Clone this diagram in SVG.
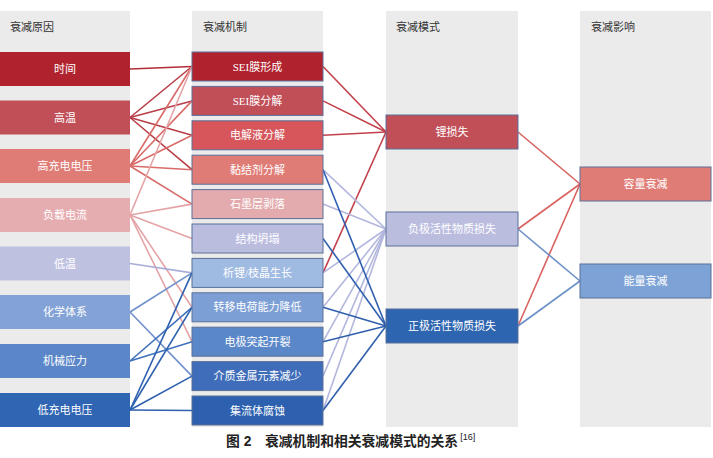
<svg xmlns="http://www.w3.org/2000/svg" width="713" height="458" viewBox="0 0 713 458">
<style>
.bg{fill:#ebebeb}
.hd{font-family:"Liberation Serif","Noto Sans CJK SC",serif;font-size:11px;fill:#333}
.t{font-family:"Liberation Serif","Noto Sans CJK SC",serif;font-size:11px;fill:#ffffff;text-anchor:middle;dominant-baseline:central}
.b{stroke:#5a7098;stroke-width:1}
.cap{font-family:"Liberation Sans","Noto Sans CJK SC",sans-serif;font-size:13.8px;font-weight:bold;fill:#222}
#connectors line{fill:none;stroke-width:1.6}
.r0{stroke:#b32d38}.r1{stroke:#b83e48}.r2{stroke:#d96b69}.r3{stroke:#e4a3a6}
.l0{stroke:#a9aed8}.l1{stroke:#6f90cc}.l2{stroke:#3f71bc}.l3{stroke:#2d60ae}
.m0{stroke:#c2404b}.m1{stroke:#b3b7dd}.m2{stroke:#2f5fad}
.e0{stroke:#d9625f}.e1{stroke:#6c91c9}
</style>
<g id="columns">
<rect class="bg" x="0" y="11" width="130" height="416"/>
<rect class="bg" x="192" y="11" width="131" height="416"/>
<rect class="bg" x="386" y="11" width="132" height="416"/>
<rect class="bg" x="580" y="11" width="131" height="416"/>
<text class="hd" x="10" y="31">衰减原因</text>
<text class="hd" x="203" y="31">衰减机制</text>
<text class="hd" x="396" y="31">衰减模式</text>
<text class="hd" x="591" y="31">衰减影响</text>
</g>
<g id="connectors">
<line class="r0" x1="130" y1="69" x2="192" y2="66.5"/>
<line class="r1" x1="130" y1="117.5" x2="192" y2="66.5"/>
<line class="r1" x1="130" y1="117.5" x2="192" y2="100.9"/>
<line class="r1" x1="130" y1="117.5" x2="192" y2="135.3"/>
<line class="r1" x1="130" y1="117.5" x2="192" y2="169.7"/>
<line class="r2" x1="130" y1="166" x2="192" y2="66.5"/>
<line class="r2" x1="130" y1="166" x2="192" y2="100.9"/>
<line class="r2" x1="130" y1="166" x2="192" y2="135.3"/>
<line class="r2" x1="130" y1="166" x2="192" y2="169.7"/>
<line class="r2" x1="130" y1="166" x2="192" y2="204.1"/>
<line class="r3" x1="130" y1="215" x2="192" y2="66.5"/>
<line class="r3" x1="130" y1="215" x2="192" y2="204.1"/>
<line class="r3" x1="130" y1="215" x2="192" y2="238.5"/>
<line class="r3" x1="130" y1="215" x2="192" y2="307.3"/>
<line class="r3" x1="130" y1="215" x2="192" y2="341.7"/>
<line class="l0" x1="130" y1="263.5" x2="192" y2="272.9"/>
<line class="l1" x1="130" y1="312" x2="192" y2="272.9"/>
<line class="l1" x1="130" y1="312" x2="192" y2="376.1"/>
<line class="l2" x1="130" y1="361" x2="192" y2="307.3"/>
<line class="l2" x1="130" y1="361" x2="192" y2="341.7"/>
<line class="l3" x1="130" y1="410" x2="192" y2="272.9"/>
<line class="l3" x1="130" y1="410" x2="192" y2="307.3"/>
<line class="l3" x1="130" y1="410" x2="192" y2="376.1"/>
<line class="l3" x1="130" y1="410" x2="192" y2="410.5"/>
<line class="m0" x1="323" y1="66.5" x2="386" y2="132"/>
<line class="m0" x1="323" y1="100.9" x2="386" y2="132"/>
<line class="m0" x1="323" y1="135.3" x2="386" y2="132"/>
<line class="m0" x1="323" y1="272.9" x2="386" y2="132"/>
<line class="m1" x1="323" y1="169.7" x2="386" y2="229"/>
<line class="m1" x1="323" y1="204.1" x2="386" y2="229"/>
<line class="m1" x1="323" y1="272.9" x2="386" y2="229"/>
<line class="m1" x1="323" y1="307.3" x2="386" y2="229"/>
<line class="m1" x1="323" y1="341.7" x2="386" y2="229"/>
<line class="m1" x1="323" y1="376.1" x2="386" y2="229"/>
<line class="m1" x1="323" y1="410.5" x2="386" y2="229"/>
<line class="m2" x1="323" y1="169.7" x2="386" y2="326"/>
<line class="m2" x1="323" y1="238.5" x2="386" y2="326"/>
<line class="m2" x1="323" y1="307.3" x2="386" y2="326"/>
<line class="m2" x1="323" y1="341.7" x2="386" y2="326"/>
<line class="m2" x1="323" y1="410.5" x2="386" y2="326"/>
<line class="e0" x1="518" y1="132" x2="580" y2="184"/>
<line class="e0" x1="518" y1="229" x2="580" y2="184"/>
<line class="e0" x1="518" y1="326" x2="580" y2="184"/>
<line class="e1" x1="518" y1="229" x2="580" y2="281"/>
<line class="e1" x1="518" y1="326" x2="580" y2="281"/>
</g>
<g id="n-shijian"><rect x="0" y="52" width="130" height="34" fill="#b0232e"/><text class="t" x="65" y="69">时间</text></g>
<g id="n-gaowen"><rect x="0" y="100.5" width="130" height="34" fill="#c04f58"/><text class="t" x="65" y="117.5">高温</text></g>
<g id="n-gaochong"><rect x="0" y="149" width="130" height="34" fill="#e07c76"/><text class="t" x="65" y="166">高充电电压</text></g>
<g id="n-fuzai"><rect x="0" y="198" width="130" height="34" fill="#e6adb0"/><text class="t" x="65" y="215">负载电流</text></g>
<g id="n-diwen"><rect x="0" y="246.5" width="130" height="34" fill="#bfc1e1"/><text class="t" x="65" y="263.5">低温</text></g>
<g id="n-huaxue"><rect x="0" y="295" width="130" height="34" fill="#83a3d6"/><text class="t" x="65" y="312">化学体系</text></g>
<g id="n-jixie"><rect x="0" y="344" width="130" height="34" fill="#5b87c9"/><text class="t" x="65" y="361">机械应力</text></g>
<g id="n-dichong"><rect x="0" y="393" width="130" height="34" fill="#2f65b2"/><text class="t" x="65" y="410">低充电电压</text></g>
<g id="m-sei1"><rect class="b" x="192" y="52" width="131" height="29" fill="#b0232e"/><text class="t" x="257.5" y="66.5">SEI膜形成</text></g>
<g id="m-sei2"><rect class="b" x="192" y="86.4" width="131" height="29" fill="#c04f58"/><text class="t" x="257.5" y="100.9">SEI膜分解</text></g>
<g id="m-dianjie"><rect class="b" x="192" y="120.8" width="131" height="29" fill="#d6565c"/><text class="t" x="257.5" y="135.3">电解液分解</text></g>
<g id="m-nianjie"><rect class="b" x="192" y="155.2" width="131" height="29" fill="#e07c76"/><text class="t" x="257.5" y="169.7">黏结剂分解</text></g>
<g id="m-shimo"><rect class="b" x="192" y="189.6" width="131" height="29" fill="#e3abad"/><text class="t" x="257.5" y="204.1">石墨层剥落</text></g>
<g id="m-jiegou"><rect class="b" x="192" y="224" width="131" height="29" fill="#bbbddf"/><text class="t" x="257.5" y="238.5">结构坍塌</text></g>
<g id="m-xili"><rect class="b" x="192" y="258.4" width="131" height="29" fill="#9fbbe2"/><text class="t" x="257.5" y="272.9">析锂/枝晶生长</text></g>
<g id="m-zhuanyi"><rect class="b" x="192" y="292.8" width="131" height="29" fill="#7c9fd6"/><text class="t" x="257.5" y="307.3">转移电荷能力降低</text></g>
<g id="m-dianji"><rect class="b" x="192" y="327.2" width="131" height="29" fill="#5a87c8"/><text class="t" x="257.5" y="341.7">电极突起开裂</text></g>
<g id="m-jiezhi"><rect class="b" x="192" y="361.6" width="131" height="29" fill="#3f6db9"/><text class="t" x="257.5" y="376.1">介质金属元素减少</text></g>
<g id="m-jiliu"><rect class="b" x="192" y="396" width="131" height="29" fill="#2d61af"/><text class="t" x="257.5" y="410.5">集流体腐蚀</text></g>
<g id="p-li"><rect class="b" x="386" y="115" width="132" height="34" fill="#c04f58"/><text class="t" x="452" y="132">锂损失</text></g>
<g id="p-fu"><rect class="b" x="386" y="212" width="132" height="34" fill="#bbbddf"/><text class="t" x="452" y="229">负极活性物质损失</text></g>
<g id="p-zheng"><rect class="b" x="386" y="309" width="132" height="34" fill="#2e65b1"/><text class="t" x="452" y="326">正极活性物质损失</text></g>
<g id="i-rongliang"><rect class="b" x="580" y="167" width="131" height="34" fill="#e07c76"/><text class="t" x="645.5" y="184">容量衰减</text></g>
<g id="i-nengliang"><rect class="b" x="580" y="264" width="131" height="34" fill="#7da2d6"/><text class="t" x="645.5" y="281">能量衰减</text></g>
<g id="caption">
<text class="cap" x="226" y="446">图 2<tspan x="265">衰减机制和相关衰减模式的关系</tspan><tspan font-size="9" font-weight="normal" dx="2" dy="-6">[16]</tspan></text>
</g>
</svg>
